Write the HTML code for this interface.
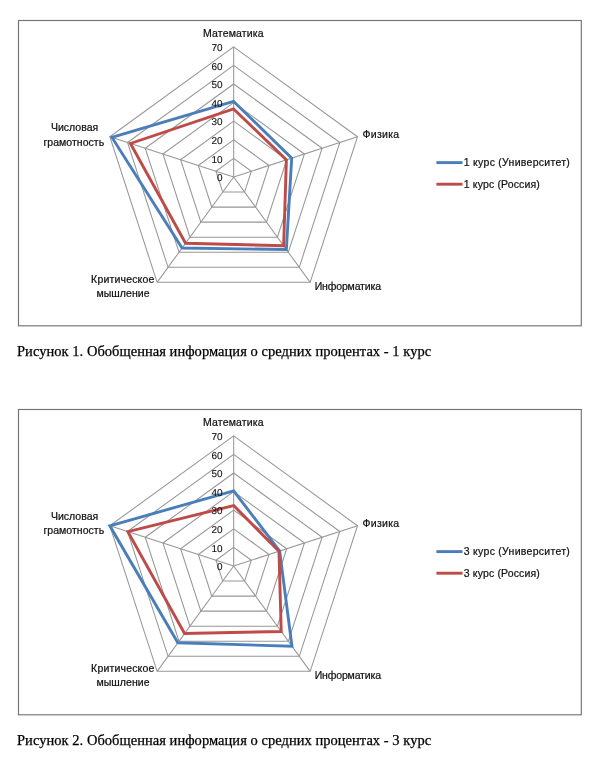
<!DOCTYPE html>
<html><head><meta charset="utf-8">
<style>
html,body{margin:0;padding:0;background:#fff;width:600px;height:759px;overflow:hidden}
svg{position:absolute;left:0;top:0;will-change:transform}
.g{fill:none;stroke:#979797;stroke-width:1.05}
.box{fill:none;stroke:#737373;stroke-width:1.15}
.b{fill:none;stroke:#4a7ebb;stroke-width:2.9;stroke-linejoin:miter}
.r{fill:none;stroke:#be4b48;stroke-width:2.9;stroke-linejoin:miter}
.lb{stroke:#4a7ebb;stroke-width:2.9;stroke-linecap:butt}
.lr{stroke:#be4b48;stroke-width:2.9;stroke-linecap:butt}
.t,.l{font-family:"Liberation Sans",sans-serif;font-size:10.5px;fill:#111;stroke:#111;stroke-width:0.22}
.t{font-size:9.95px;stroke-width:0.12;text-rendering:geometricPrecision}
.cap{position:absolute;left:17px;font-family:"Liberation Serif",serif;font-size:14.5px;letter-spacing:0.035px;-webkit-text-stroke:0.25px #000;color:#000;white-space:nowrap;line-height:1;will-change:transform}
</style></head><body>
<svg width="600" height="759" viewBox="0 0 600 759">
<polygon points="233.67,158.40 251.36,171.25 244.60,192.05 222.74,192.05 215.98,171.25" class="g"/>
<polygon points="233.67,139.80 269.05,165.50 255.54,207.10 211.80,207.10 198.29,165.50" class="g"/>
<polygon points="233.67,121.20 286.74,159.76 266.47,222.14 200.87,222.14 180.60,159.76" class="g"/>
<polygon points="233.67,102.60 304.43,154.01 277.40,237.19 189.94,237.19 162.91,154.01" class="g"/>
<polygon points="233.67,84.00 322.12,148.26 288.33,252.24 179.01,252.24 145.22,148.26" class="g"/>
<polygon points="233.67,65.40 339.81,142.51 299.27,267.29 168.07,267.29 127.53,142.51" class="g"/>
<polygon points="233.67,46.80 357.50,136.77 310.20,282.33 157.14,282.33 109.84,136.77" class="g"/>
<line x1="233.67" y1="177.00" x2="233.67" y2="46.80" class="g"/>
<line x1="233.67" y1="177.00" x2="357.50" y2="136.77" class="g"/>
<line x1="233.67" y1="177.00" x2="310.20" y2="282.33" class="g"/>
<line x1="233.67" y1="177.00" x2="157.14" y2="282.33" class="g"/>
<line x1="233.67" y1="177.00" x2="109.84" y2="136.77" class="g"/>
<polygon points="233.67,101.48 291.69,158.15 286.37,249.53 182.07,248.03 111.97,137.46" class="b"/>
<polygon points="233.67,108.92 286.39,159.87 283.63,245.77 185.57,243.21 130.45,143.46" class="r"/>
<text transform="translate(222.6,181.10) scale(1.0,1)" class="t" text-anchor="end">0</text>
<text transform="translate(222.6,162.50) scale(1.0,1)" class="t" text-anchor="end">10</text>
<text transform="translate(222.6,143.90) scale(1.0,1)" class="t" text-anchor="end">20</text>
<text transform="translate(222.6,125.30) scale(1.0,1)" class="t" text-anchor="end">30</text>
<text transform="translate(222.6,106.70) scale(1.0,1)" class="t" text-anchor="end">40</text>
<text transform="translate(222.6,88.10) scale(1.0,1)" class="t" text-anchor="end">50</text>
<text transform="translate(222.6,69.50) scale(1.0,1)" class="t" text-anchor="end">60</text>
<text transform="translate(222.6,50.90) scale(1.0,1)" class="t" text-anchor="end">70</text>
<text x="203.10" y="36.60" class="l" textLength="60.40" lengthAdjust="spacing">Математика</text>
<text x="362.60" y="137.60" class="l" textLength="36.60" lengthAdjust="spacing">Физика</text>
<text x="314.70" y="289.80" class="l" textLength="66.30" lengthAdjust="spacing">Информатика</text>
<text x="91.10" y="282.75" class="l" textLength="63.20" lengthAdjust="spacing">Критическое</text>
<text x="96.50" y="297.20" class="l" textLength="53.10" lengthAdjust="spacing">мышление</text>
<text x="51.00" y="131.00" class="l" textLength="47.20" lengthAdjust="spacing">Числовая</text>
<text x="43.40" y="146.00" class="l" textLength="60.80" lengthAdjust="spacing">грамотность</text>
<line x1="436.4" y1="162.60" x2="462.5" y2="162.60" class="lb"/>
<line x1="436.4" y1="184.20" x2="462.5" y2="184.20" class="lr"/>
<text x="463.8" y="165.80" class="l" textLength="106.0" lengthAdjust="spacing">1 курс (Университет)</text>
<text x="463.8" y="187.50" class="l" textLength="76.0" lengthAdjust="spacing">1 курс (Россия)</text>
<rect x="18.5" y="20.50" width="562.8" height="305.3" class="box"/>
<polygon points="233.67,547.40 251.36,560.25 244.60,581.05 222.74,581.05 215.98,560.25" class="g"/>
<polygon points="233.67,528.80 269.05,554.50 255.54,596.10 211.80,596.10 198.29,554.50" class="g"/>
<polygon points="233.67,510.20 286.74,548.76 266.47,611.14 200.87,611.14 180.60,548.76" class="g"/>
<polygon points="233.67,491.60 304.43,543.01 277.40,626.19 189.94,626.19 162.91,543.01" class="g"/>
<polygon points="233.67,473.00 322.12,537.26 288.33,641.24 179.01,641.24 145.22,537.26" class="g"/>
<polygon points="233.67,454.40 339.81,531.51 299.27,656.29 168.07,656.29 127.53,531.51" class="g"/>
<polygon points="233.67,435.80 357.50,525.77 310.20,671.33 157.14,671.33 109.84,525.77" class="g"/>
<line x1="233.67" y1="566.00" x2="233.67" y2="435.80" class="g"/>
<line x1="233.67" y1="566.00" x2="357.50" y2="525.77" class="g"/>
<line x1="233.67" y1="566.00" x2="310.20" y2="671.33" class="g"/>
<line x1="233.67" y1="566.00" x2="157.14" y2="671.33" class="g"/>
<line x1="233.67" y1="566.00" x2="109.84" y2="525.77" class="g"/>
<polygon points="233.67,490.86 279.66,551.06 291.94,646.20 177.86,642.82 109.84,525.77" class="b"/>
<polygon points="233.67,505.55 278.96,551.29 281.23,631.46 184.58,633.56 127.89,531.63" class="r"/>
<text transform="translate(222.6,570.10) scale(1.0,1)" class="t" text-anchor="end">0</text>
<text transform="translate(222.6,551.50) scale(1.0,1)" class="t" text-anchor="end">10</text>
<text transform="translate(222.6,532.90) scale(1.0,1)" class="t" text-anchor="end">20</text>
<text transform="translate(222.6,514.30) scale(1.0,1)" class="t" text-anchor="end">30</text>
<text transform="translate(222.6,495.70) scale(1.0,1)" class="t" text-anchor="end">40</text>
<text transform="translate(222.6,477.10) scale(1.0,1)" class="t" text-anchor="end">50</text>
<text transform="translate(222.6,458.50) scale(1.0,1)" class="t" text-anchor="end">60</text>
<text transform="translate(222.6,439.90) scale(1.0,1)" class="t" text-anchor="end">70</text>
<text x="203.10" y="425.60" class="l" textLength="60.40" lengthAdjust="spacing">Математика</text>
<text x="362.60" y="526.60" class="l" textLength="36.60" lengthAdjust="spacing">Физика</text>
<text x="314.70" y="678.80" class="l" textLength="66.30" lengthAdjust="spacing">Информатика</text>
<text x="91.10" y="671.75" class="l" textLength="63.20" lengthAdjust="spacing">Критическое</text>
<text x="96.50" y="685.60" class="l" textLength="53.10" lengthAdjust="spacing">мышление</text>
<text x="51.00" y="520.00" class="l" textLength="47.20" lengthAdjust="spacing">Числовая</text>
<text x="43.40" y="534.40" class="l" textLength="60.80" lengthAdjust="spacing">грамотность</text>
<line x1="436.4" y1="551.60" x2="462.5" y2="551.60" class="lb"/>
<line x1="436.4" y1="573.20" x2="462.5" y2="573.20" class="lr"/>
<text x="463.8" y="554.80" class="l" textLength="106.0" lengthAdjust="spacing">3 курс (Университет)</text>
<text x="463.8" y="576.50" class="l" textLength="76.0" lengthAdjust="spacing">3 курс (Россия)</text>
<rect x="18.5" y="409.50" width="562.8" height="305.3" class="box"/>
</svg>
<div class="cap" style="top:344px">Рисунок 1. Обобщенная информация о средних процентах - 1 курс</div>
<div class="cap" style="top:733px">Рисунок 2. Обобщенная информация о средних процентах - 3 курс</div>
</body></html>
